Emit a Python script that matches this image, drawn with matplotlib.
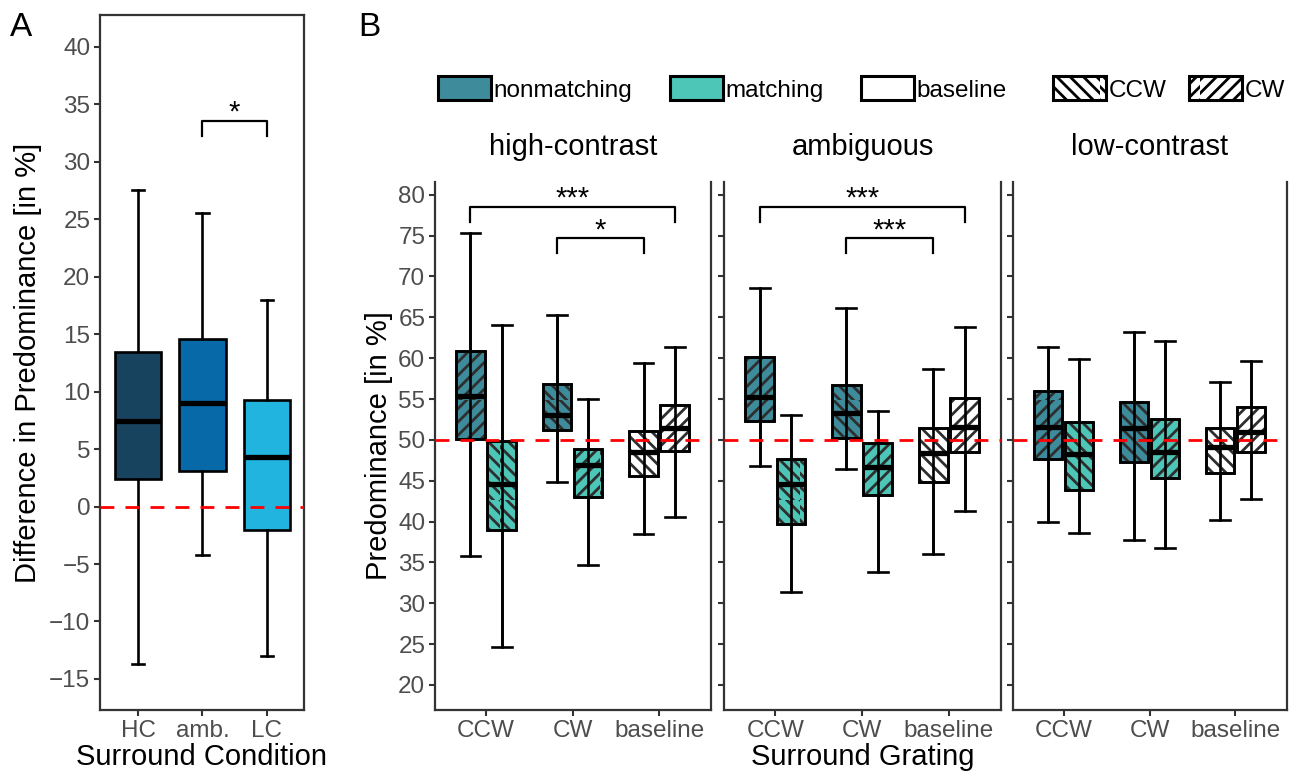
import matplotlib
matplotlib.use('Agg')
import matplotlib.pyplot as plt
from matplotlib.patches import Patch, PathPatch
from matplotlib.backend_bases import GraphicsContextBase

plt.rcParams['font.family'] = ['Liberation Sans', 'DejaVu Sans']
plt.rcParams['hatch.linewidth'] = 2.0

# tune hatch stripe spacing to the reference
_orig_hatch_path = GraphicsContextBase.get_hatch_path
def _tuned_hatch_path(self, density=5.34):
    return _orig_hatch_path(self, density)
GraphicsContextBase.get_hatch_path = _tuned_hatch_path

# ---------------- Panel A data ----------------
a_cats = ['HC', 'amb.', 'LC']
a_colors = ['#18435F', '#0869A8', '#20B4DE']
a_whislo = [-13.7, -4.2, -13.0]
a_q1 = [2.4, 3.05, -2.0]
a_med = [7.4, 9.0, 4.33]
a_q3 = [13.4, 14.6, 9.3]
a_whishi = [27.5, 25.5, 18.0]
a_sig = [('amb.', 'LC', '*', 33.57)]

# ---------------- Panel B data ----------------
facets = ['high-contrast', 'ambiguous', 'low-contrast']
gratings = ['CCW', 'CW', 'baseline']
group_colors = {'nonmatching': '#3E8B9C', 'matching': '#4DC5B7', 'baseline': '#FFFFFF'}
dir_hatch = {'CCW': '\\\\\\', 'CW': '///'}
box_grating = ['CCW', 'CCW', 'CW', 'CW', 'baseline', 'baseline']
box_group = ['nonmatching', 'matching', 'nonmatching', 'matching', 'baseline', 'baseline']
box_dir = ['CW', 'CCW', 'CCW', 'CW', 'CCW', 'CW']
box_side = [-1, 1, -1, 1, -1, 1]

b_whislo = {'high-contrast': [35.8, 24.7, 44.9, 34.65, 38.45, 40.57],
            'ambiguous':     [46.85, 31.4, 46.45, 33.84, 36.04, 41.27],
            'low-contrast':  [40.0, 38.57, 37.76, 36.74, 40.2, 42.78]}
b_q1 = {'high-contrast': [50.1, 39.0, 51.2, 43.0, 45.6, 48.7],
        'ambiguous':     [52.37, 39.7, 50.2, 43.27, 44.8, 48.57],
        'low-contrast':  [47.7, 43.88, 47.35, 45.3, 45.92, 48.49]}
b_med = {'high-contrast': [55.35, 44.65, 53.06, 46.9, 48.57, 51.5],
         'ambiguous':     [55.3, 44.65, 53.35, 46.7, 48.45, 51.55],
         'low-contrast':  [51.59, 48.29, 51.5, 48.49, 49.1, 50.94]}
b_q3 = {'high-contrast': [60.9, 49.9, 56.9, 48.86, 51.1, 54.25],
        'ambiguous':     [60.2, 47.6, 56.7, 49.67, 51.4, 55.1],
        'low-contrast':  [56.0, 52.2, 54.65, 52.57, 51.47, 54.0]}
b_whishi = {'high-contrast': [75.3, 64.1, 65.3, 55.06, 59.4, 61.4],
            'ambiguous':     [68.57, 53.06, 66.1, 53.55, 58.65, 63.87],
            'low-contrast':  [61.35, 59.9, 63.2, 62.16, 57.1, 59.7]}
b_sig = {'high-contrast': [(0, 5, '***', 78.56), (2, 4, '*', 74.7)],
         'ambiguous':     [(0, 5, '***', 78.56), (2, 4, '***', 74.7)],
         'low-contrast':  []}

W, H = 1289, 776
fig = plt.figure(figsize=(W / 100, H / 100), dpi=100)

def px_axes(l, t, r, b):
    return fig.add_axes([l / W, 1 - b / H, (r - l) / W, (b - t) / H])

EDGE = '#333333'
TICKC = '#4D4D4D'
BOXLW = 1.9
MEDLW = 3.8
TICKFS = 17.5
TITLEFS = 21

def style_axis(ax, spines=('left', 'right', 'bottom', 'top')):
    for s in ['left', 'right', 'bottom', 'top']:
        ax.spines[s].set_visible(s in spines)
        ax.spines[s].set_color(EDGE)
        ax.spines[s].set_linewidth(1.6)
    ax.tick_params(axis='both', direction='out', length=4, width=1.5, color=EDGE,
                   labelcolor=TICKC, labelsize=TICKFS, pad=3)

def draw_boxes(ax, stats, positions, width, capw, facecolors, hatches, through=False):
    res = ax.bxp(stats, positions=positions, widths=width, patch_artist=True,
                 showfliers=False, manage_ticks=False, capwidths=capw,
                 boxprops=dict(linewidth=BOXLW, edgecolor='black'),
                 medianprops=dict(linewidth=MEDLW, color='black', solid_capstyle='butt'),
                 whiskerprops=dict(linewidth=BOXLW, color='black'),
                 capprops=dict(linewidth=BOXLW, color='black'))
    for i, box in enumerate(res['boxes']):
        box.set_facecolor(facecolors[i])
        box.set_zorder(2)
        if hatches is not None:
            hp = PathPatch(box.get_path(), facecolor='none', edgecolor='#2E2E2E',
                           linewidth=0, hatch=hatches[i], zorder=2.1,
                           transform=box.get_transform())
            ax.add_patch(hp)
            op = PathPatch(box.get_path(), facecolor='none', edgecolor='black',
                           linewidth=BOXLW, zorder=2.2, transform=box.get_transform())
            ax.add_patch(op)
    if through:
        ax.vlines(positions, [s['whislo'] for s in stats], [s['whishi'] for s in stats],
                  color='black', linewidth=BOXLW, zorder=2.3)
    for m in res['medians']:
        m.set_zorder(3)
    return res

# ---------------- Panel A ----------------
axA = px_axes(100, 15, 304, 710)
style_axis(axA)
a_pos = list(range(1, len(a_cats) + 1))
statsA = [dict(med=a_med[i], q1=a_q1[i], q3=a_q3[i], whislo=a_whislo[i],
               whishi=a_whishi[i], fliers=[]) for i in range(len(a_cats))]
draw_boxes(axA, statsA, a_pos, 0.72, 0.19, a_colors, None)
axA.axhline(0, color='red', linewidth=2, dashes=(5, 4), zorder=4)
axA.set_xlim(0.406, 3.58)
axA.set_ylim(-17.7, 42.76)
axA.set_yticks(range(-15, 41, 5))
axA.set_xticks(a_pos)
axA.set_xticklabels(a_cats)
axA.set_xlabel('Surround Condition', fontsize=TITLEFS, labelpad=1)
axA.set_ylabel('Difference in Predominance [in %]', fontsize=TITLEFS, labelpad=5)
for c1, c2, lab, y in a_sig:
    x1 = a_pos[a_cats.index(c1)]
    x2 = a_pos[a_cats.index(c2)]
    axA.plot([x1, x1, x2, x2], [y - 1.35, y, y, y - 1.35], color='black', lw=1.6)
    axA.text((x1 + x2) / 2, y, lab, ha='center', va='baseline', fontsize=21)

fig.text(10 / W, 1 - 28 / H, 'A', fontsize=24, ha='left', va='center')
fig.text(358 / W, 1 - 28 / H, 'B', fontsize=24, ha='left', va='center')

# ---------------- Panel B ----------------
facet_px = [(435, 711), (724, 1001), (1013, 1287)]
dodge = 0.18
bw = 0.33
g_pos = {g: i + 1 for i, g in enumerate(gratings)}
axes_B = []
for fi, f in enumerate(facets):
    l, r = facet_px[fi]
    ax = px_axes(l, 181.7, r, 710)
    axes_B.append(ax)
    style_axis(ax, spines=('left', 'right', 'bottom'))
    pos = [g_pos[box_grating[k]] + dodge * box_side[k] for k in range(6)]
    stats = [dict(med=b_med[f][k], q1=b_q1[f][k], q3=b_q3[f][k], whislo=b_whislo[f][k],
                  whishi=b_whishi[f][k], fliers=[]) for k in range(6)]
    fcs = [group_colors[box_group[k]] for k in range(6)]
    hts = [dir_hatch[box_dir[k]] for k in range(6)]
    draw_boxes(ax, stats, pos, bw, 0.23, fcs, hts, through=True)
    ax.axhline(50, color='red', linewidth=2, dashes=(5, 4), zorder=4)
    ax.set_xlim(0.41, 3.6)
    ax.set_ylim(16.94, 81.6)
    ax.set_yticks(range(20, 81, 5))
    ax.set_xticks([1, 2, 3])
    ax.set_xticklabels(gratings)
    if fi > 0:
        ax.tick_params(axis='y', labelleft=False)
    for k1, k2, lab, y in b_sig[f]:
        x1, x2 = pos[k1], pos[k2]
        ax.plot([x1, x1, x2, x2], [y - 1.85, y, y, y - 1.85], color='black', lw=1.6,
                clip_on=False)
        ax.text((x1 + x2) / 2, y, lab, ha='center', va='baseline', fontsize=21,
                clip_on=False)
    fig.text((l + r) / 2 / W, 1 - 147 / H, f, fontsize=TITLEFS, ha='center', va='center')

axes_B[0].set_ylabel('Predominance [in %]', fontsize=TITLEFS, labelpad=4)
axes_B[1].set_xlabel('Surround Grating', fontsize=TITLEFS, labelpad=1)

# ---------------- Legends ----------------
fs = 17.5
fpx = fs * 100 / 72
h1 = [Patch(facecolor=group_colors[g], edgecolor='black', linewidth=2.2) for g in
      ['nonmatching', 'matching', 'baseline']]
leg1 = fig.legend(h1, ['nonmatching', 'matching', 'baseline'], loc='center left',
                  bbox_to_anchor=(438 / W, 1 - 89 / H), ncol=3, frameon=False,
                  fontsize=fs, handlelength=53 / fpx, handleheight=27 / fpx,
                  handletextpad=0.1, columnspacing=1.55, borderaxespad=0, borderpad=0)
h2 = [Patch(facecolor='white', edgecolor='black', linewidth=2.2, hatch=dir_hatch[d])
      for d in ['CCW', 'CW']]
leg2 = fig.legend(h2, ['CCW', 'CW'], loc='center left',
                  bbox_to_anchor=(1053 / W, 1 - 89 / H), ncol=2, frameon=False,
                  fontsize=fs, handlelength=53 / fpx, handleheight=27 / fpx,
                  handletextpad=0.1, columnspacing=0.95, borderaxespad=0, borderpad=0)

fig.savefig('out.png', dpi=100)
